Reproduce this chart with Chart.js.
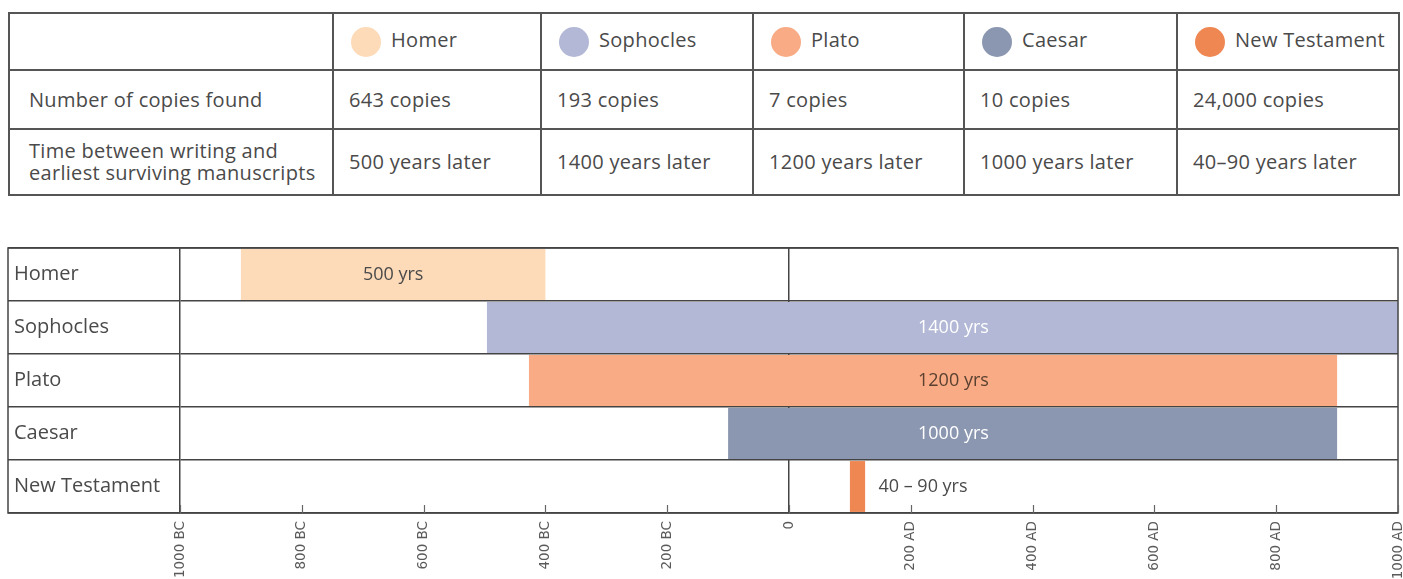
<!DOCTYPE html>
<html>
<head>
<meta charset="utf-8">
<script src="https://cdn.jsdelivr.net/npm/chart.js@4.4.1/dist/chart.umd.min.js"></script>
<style>
  body { margin: 0; width: 1403px; height: 579px; background: #fff; position: relative; overflow: hidden;
         font-family: "Open Sans", sans-serif; color: #4a4a4a; }
  #facts { position: absolute; left: 8px; top: 12px; width: 1390px; border-collapse: collapse; table-layout: fixed; }
  #facts td { border: 2px solid #555; padding: 0 0 0 15px; font-size: 20px; letter-spacing: 0.3px; line-height: 22px; white-space: nowrap; }
  #facts td:first-child { padding-left: 19px; }
  #facts tr.head td { height: 55px; }
  #facts tr.copies td { height: 57px; }
  #facts tr.gap td { height: 64px; }
  .dot { display: inline-block; width: 30px; height: 30px; border-radius: 50%; vertical-align: middle; margin: 0 10px 0 2px; }
  #chartBox { position: absolute; left: 0; top: 240px; width: 1403px; height: 339px; }
</style>
</head>
<body>
<table id="facts"><colgroup>
  <col style="width:324px"><col style="width:208px"><col style="width:212px">
  <col style="width:211px"><col style="width:213px"><col style="width:222px">
</colgroup><tbody></tbody></table>
<div id="chartBox"><canvas id="timeline" width="1403" height="339"></canvas></div>
<script>
// source texts
const authors = ["Homer", "Sophocles", "Plato", "Caesar", "New Testament"];
const copiesFound = ["643 copies", "193 copies", "7 copies", "10 copies", "24,000 copies"];
const gapText = ["500 years later", "1400 years later", "1200 years later", "1000 years later", "40\u201390 years later"];

// timeline: year written -> year of earliest surviving copy (negative = BC)
const writtenYear = [-900, -496, -427, -100, 100];
const earliestCopyYear = [-400, 1000, 900, 900, 125];
const barLabels = ["500 yrs", "1400 yrs", "1200 yrs", "1000 yrs", "40 \u2013 90 yrs"];
const labelYear = [-650, 270, 270, 270, 220];

const tickYears = [-1000, -800, -600, -400, -200, 0, 200, 400, 600, 800, 1000];
const tickLabels = ["1000 BC", "800 BC", "600 BC", "400 BC", "200 BC", "0", "200 AD", "400 AD", "600 AD", "800 AD", "1000 AD"];

const authorColors = ["#fddab8", "#b2b8d5", "#f8ab84", "#8b97b0", "#ef8753"];
const labelColors = ["#4a4a4a", "#ffffff", "#5a4030", "#ffffff", "#4a4a4a"];

// --- table ---
const tbody = document.querySelector("#facts tbody");
let html = '<tr class="head"><td></td>';
authors.forEach((a, i) => {
  html += `<td><span class="dot" style="background:${authorColors[i]}"></span>${a}</td>`;
});
html += '</tr><tr class="copies"><td>Number of copies found</td>';
copiesFound.forEach(c => { html += `<td>${c}</td>`; });
html += '</tr><tr class="gap"><td style="line-height:22px">Time between writing and<br>earliest surviving manuscripts</td>';
gapText.forEach(g => { html += `<td>${g}</td>`; });
html += "</tr>";
tbody.innerHTML = html;

// --- chart ---
const LABEL_COL = 172;

const frame = {
  id: "frame",
  afterDatasetsDraw(chart) {
    const { ctx, scales: { x } } = chart;
    const meta = chart.getDatasetMeta(0);
    ctx.save();
    ctx.font = '18px "Open Sans"';
    ctx.textAlign = "center";
    ctx.textBaseline = "middle";
    meta.data.forEach((bar, i) => {
      ctx.fillStyle = labelColors[i];
      ctx.fillText(barLabels[i], x.getPixelForValue(labelYear[i]), bar.y);
    });
    ctx.restore();
  },
  afterDraw(chart) {
    const { ctx, chartArea: a, scales: { x, y } } = chart;
    const left = y.right - LABEL_COL;
    ctx.save();
    ctx.strokeStyle = "#444";
    ctx.lineWidth = 1.5;
    ctx.strokeRect(left, a.top, a.right - left, a.bottom - a.top);
    // short inward tick marks along the bottom edge
    ctx.strokeStyle = "#666";
    ctx.lineWidth = 1.2;
    ctx.beginPath();
    x.ticks.forEach(t => {
      const px = Math.round(x.getPixelForValue(t.value)) + 0.5;
      ctx.moveTo(px, a.bottom - 8);
      ctx.lineTo(px, a.bottom);
    });
    ctx.stroke();
    ctx.restore();
  }
};

Chart.defaults.font.family = '"Open Sans", sans-serif';

new Chart(document.getElementById("timeline"), {
  type: "bar",
  data: {
    labels: authors,
    datasets: [{
      data: writtenYear.map((w, i) => [w, earliestCopyYear[i]]),
      backgroundColor: authorColors,
      borderWidth: 0,
      barPercentage: 0.96,
      categoryPercentage: 1
    }]
  },
  options: {
    indexAxis: "y",
    responsive: false,
    animation: false,
    devicePixelRatio: 1,
    layout: { padding: { left: 14, right: 5, top: 8, bottom: 0 } },
    plugins: { legend: { display: false }, tooltip: { enabled: false } },
    scales: {
      y: {
        z: 1,
        grid: { color: "#444", lineWidth: 1.5, tickLength: LABEL_COL, tickColor: "#444" },
        border: { display: true, color: "#444", width: 1.5 },
        ticks: { crossAlign: "far", color: "#4a4a4a", font: { size: 20 } },
        afterFit(s) { s.width = LABEL_COL - 6; s.paddingTop = 0; s.paddingBottom = 0; }
      },
      x: {
        z: 1,
        min: -1000,
        max: 1000,
        afterBuildTicks(s) { s.ticks = tickYears.map(v => ({ value: v })); },
        grid: {
          color: c => (c.tick && c.tick.value === 0 ? "#444" : "rgba(0,0,0,0)"),
          lineWidth: 1.5,
          drawTicks: false
        },
        border: { display: false },
        ticks: {
          minRotation: 90,
          maxRotation: 90,
          padding: 8,
          color: "#5a5a5a",
          font: { family: '"DejaVu Sans", sans-serif', size: 13.5 },
          callback: (v, i) => tickLabels[i]
        },
        afterFit(s) { s.height = 66; s.paddingLeft = 0; s.paddingRight = 0; }
      }
    }
  },
  plugins: [frame]
});
</script>
</body>
</html>
